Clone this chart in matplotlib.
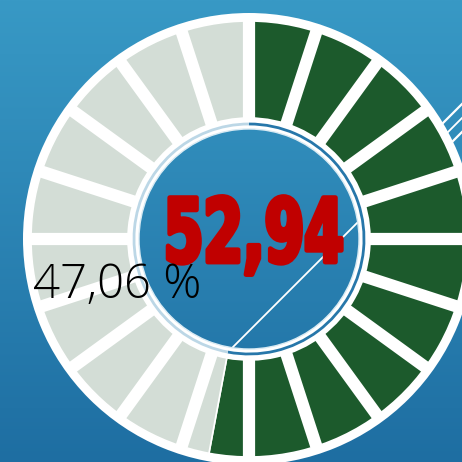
"""Segmented donut gauge: share of the target reached (52,94 %)."""

import matplotlib

matplotlib.use("Agg")
import matplotlib.patheffects as pe
import matplotlib.pyplot as plt
import numpy as np
from matplotlib.patches import Arc, Wedge
from matplotlib.transforms import Affine2D

# values in percent, clockwise from 12 o'clock
shares = [52.94, 47.06]
share_labels = ["52,94", "47,06 %"]
share_colors = ["#1c5a2c", "#d3ddd6"]
n_segments = 20

W = H = 462
CX, CY = 249, 223  # donut centre (y up)
R_OUT, R_IN = 218, 121


class Stretch(pe.AbstractPathEffect):
    """Stretch the glyphs about a display point (poor man's condensed font)."""

    def __init__(self, sx, sy, origin, stroke=0.0):
        super().__init__()
        self.sx, self.sy, self.origin, self.stroke = sx, sy, origin, stroke

    def draw_path(self, renderer, gc, tpath, affine, rgbFace=None):
        x0, y0 = self.origin()
        t = affine + Affine2D().translate(-x0, -y0).scale(self.sx, self.sy).translate(x0, y0)
        if self.stroke:
            gc0 = renderer.new_gc()
            gc0.copy_properties(gc)
            gc0.set_linewidth(self.stroke)
            gc0.set_foreground(rgbFace)
            renderer.draw_path(gc0, tpath, t, rgbFace)
            gc0.restore()
        else:
            renderer.draw_path(gc, tpath, t, rgbFace)


def main() -> None:
    fig = plt.figure(figsize=(W / 100, H / 100), dpi=100)
    ax = fig.add_axes([0, 0, 1, 1])

    # background: vertical blue gradient
    grad = np.linspace(0, 1, 256)[:, None, None]
    top = np.array([56, 153, 197]) / 255
    bottom = np.array([30, 110, 162]) / 255
    img = top * (1 - grad) + bottom * grad
    ax.imshow(img, extent=(0, W, 0, H), aspect="auto", zorder=0)

    # decorative diagonal lines (they run under the ring)
    ax.plot([232, 470], [H - 348, H - 110], color="white", lw=1.3, zorder=1)
    for off in (-7, 7):
        ax.plot([420 + off, 480 + off], [H - 160 - off, H - 100 - off],
                color="white", lw=1.6, zorder=1)

    # white annulus behind the segments
    ax.add_patch(Wedge((CX, CY), 226, 0, 360, width=226 - 110, facecolor="white", lw=0, zorder=2))

    wedges, _ = ax.pie(
        shares,
        colors=share_colors,
        startangle=90,
        counterclock=False,
        radius=R_OUT,
        center=(CX, CY),
        wedgeprops=dict(width=R_OUT - R_IN, edgecolor="white", linewidth=1.2),
    )
    for w in wedges:
        w.set_zorder(3)

    # gaps between the segments
    for k in range(n_segments):
        a = np.deg2rad(90 - k * 360 / n_segments)
        ax.plot(
            [CX + 114 * np.cos(a), CX + 224 * np.cos(a)],
            [CY + 114 * np.sin(a), CY + 224 * np.sin(a)],
            color="white", lw=8.8, solid_capstyle="butt", zorder=4,
        )

    # thin inner arc echoing the split
    split = 90 - shares[0] / 100 * 360
    ax.add_patch(Arc((CX, CY), 230, 230, theta1=split, theta2=90, color="#2777aa", lw=2.0, zorder=5))
    ax.add_patch(Arc((CX, CY), 230, 230, theta1=90, theta2=split + 360, color="#bcd7e6", lw=2.0, zorder=5))
    ax.add_patch(Arc((CX, CY), 220, 220, theta1=0, theta2=360, color="#d8eaf3", lw=1.0, zorder=5))

    ax.set_xlim(0, W)
    ax.set_ylim(0, H)
    ax.set_axis_off()

    bx, by = 254, H - 262
    ax.text(
        bx, by, share_labels[0], ha="center", va="baseline",
        fontsize=41, fontweight="bold", color="#c00000",
        family=["DejaVu Sans"], zorder=6,
        path_effects=[Stretch(1.0, 1.55, lambda: ax.transData.transform((bx, by)), stroke=3.5)],
    )
    ax.text(
        33, H - 298, share_labels[1], ha="left", va="baseline",
        fontsize=34, fontweight="light", color="black",
        family=["Open Sans", "DejaVu Sans"], zorder=6,
    )

    fig.savefig("out.png", dpi=100)


if __name__ == "__main__":
    main()
